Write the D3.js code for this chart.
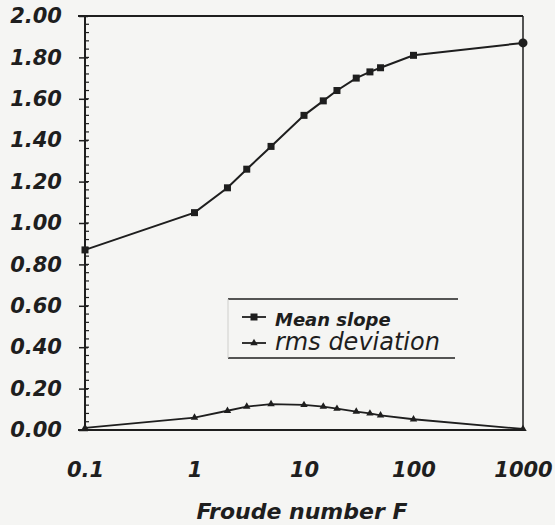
<!DOCTYPE html>
<html>
<head>
<meta charset="utf-8"/>
<title>Mean slope vs Froude number</title>
<script src="https://d3js.org/d3.v7.min.js"></script>
<style>
  html, body { margin: 0; padding: 0; background: #f5f5f3; }
  svg { display: block; }
  text { fill: #1e1e1e; font-family: "DejaVu Sans", sans-serif; font-style: italic; }
</style>
</head>
<body>
<div id="chart"></div>
<script>
// data
const froude = [0.1, 1, 2, 3, 5, 10, 15, 20, 30, 40, 50, 100, 1000];
const meanSlope = [0.87, 1.05, 1.17, 1.26, 1.37, 1.52, 1.59, 1.64, 1.70, 1.73, 1.75, 1.81, 1.87];
const rmsDev = [0.01, 0.06, 0.093, 0.113, 0.125, 0.121, 0.113, 0.103, 0.089, 0.08, 0.071, 0.052, 0.005];
const xTicks = [0.1, 1, 10, 100, 1000];
const yTicks = [0, 0.2, 0.4, 0.6, 0.8, 1.0, 1.2, 1.4, 1.6, 1.8, 2.0];
const seriesNames = ["Mean slope", "rms deviation"];

const width = 555, height = 525;
const margin = {top: 16, right: 32, bottom: 95, left: 85};
const innerW = width - margin.left - margin.right;
const innerH = height - margin.top - margin.bottom;

const svg = d3.select('#chart').append('svg')
    .attr('width', width)
    .attr('height', height);

const g = svg.append('g')
    .attr('transform', `translate(${margin.left},${margin.top})`);

const x = d3.scaleLog().domain([0.1, 1000]).range([0, innerW]);
const y = d3.scaleLinear().domain([0, 2]).range([innerH, 0]);

const ink = '#1e1e1e';

// frame: top and right lines
g.append('line').attr('x1', -7).attr('x2', innerW).attr('y1', 0).attr('y2', 0)
    .attr('stroke', ink).attr('stroke-width', 2);
g.append('line').attr('x1', innerW).attr('x2', innerW).attr('y1', 0).attr('y2', innerH)
    .attr('stroke', ink).attr('stroke-width', 1.5);

// bottom axis (no tick marks)
const xAxis = g.append('g')
    .attr('transform', `translate(0,${innerH})`)
    .call(d3.axisBottom(x).tickValues(xTicks).tickSize(0).tickPadding(32)
        .tickFormat(d => String(d)));
xAxis.select('.domain').attr('stroke', ink).attr('stroke-width', 2)
    .attr('d', `M-7,0H${innerW}`);
xAxis.selectAll('text')
    .style('font-size', '21px').style('font-weight', 'bold')
    .attr('fill', ink).attr('dy', '0.71em');

// left axis: minor ticks inside
const minor = d3.range(0, 2.0001, 0.04);
g.append('g')
    .selectAll('line').data(minor).enter().append('line')
    .attr('x1', 0).attr('x2', 4)
    .attr('y1', d => y(d)).attr('y2', d => y(d))
    .attr('stroke', ink).attr('stroke-width', 1.2);

const yAxis = g.append('g')
    .call(d3.axisLeft(y).tickValues(yTicks).tickSize(6).tickPadding(17)
        .tickFormat(d3.format('.2f')));
yAxis.select('.domain').attr('stroke', ink).attr('stroke-width', 2)
    .attr('d', `M0,0V${innerH}`);
yAxis.selectAll('.tick line').attr('stroke', ink).attr('stroke-width', 1.5)
    .attr('x1', 3);
yAxis.selectAll('text')
    .style('font-size', '21px').style('font-weight', 'bold')
    .attr('fill', ink);

// series
const meanData = froude.map((f, i) => ({f, v: meanSlope[i]}));
const rmsData = froude.map((f, i) => ({f, v: rmsDev[i]}));
const line = d3.line().x(d => x(d.f)).y(d => y(d.v));

g.append('path').datum(meanData).attr('d', line)
    .attr('fill', 'none').attr('stroke', ink).attr('stroke-width', 2);
g.append('path').datum(rmsData).attr('d', line)
    .attr('fill', 'none').attr('stroke', ink).attr('stroke-width', 1.8);

g.selectAll('.msq').data(meanData.slice(0, -1)).enter().append('rect')
    .attr('x', d => x(d.f) - 3.5).attr('y', d => y(d.v) - 3.5)
    .attr('width', 7).attr('height', 7).attr('fill', ink);
g.append('circle').datum(meanData[meanData.length - 1])
    .attr('cx', d => x(d.f)).attr('cy', d => y(d.v)).attr('r', 4.5).attr('fill', ink);

const tri = d3.symbol().type(d3.symbolTriangle).size(24);
g.selectAll('.rtri').data(rmsData).enter().append('path')
    .attr('d', tri)
    .attr('transform', d => `translate(${x(d.f)},${y(d.v)})`)
    .attr('fill', ink);

// x axis title
svg.append('text')
    .attr('x', 302).attr('y', 519)
    .attr('text-anchor', 'middle')
    .style('font-size', '22px').style('font-weight', 'bold')
    .text('Froude number F');

// legend
const leg = svg.append('g');
leg.append('line').attr('x1', 228).attr('x2', 458).attr('y1', 299).attr('y2', 299)
    .attr('stroke', ink).attr('stroke-width', 1.5);
leg.append('line').attr('x1', 228).attr('x2', 455).attr('y1', 358).attr('y2', 358)
    .attr('stroke', ink).attr('stroke-width', 1.5);
leg.append('line').attr('x1', 228).attr('x2', 228).attr('y1', 299).attr('y2', 358)
    .attr('stroke', '#cfcfcc').attr('stroke-width', 1);

const legY = [317, 343];
leg.selectAll('.lline').data(legY).enter().append('line')
    .attr('x1', 242).attr('x2', 266).attr('y1', d => d).attr('y2', d => d)
    .attr('stroke', ink).attr('stroke-width', 1.8);
leg.append('rect').attr('x', 250.5).attr('y', legY[0] - 3.5).attr('width', 7).attr('height', 7)
    .attr('fill', ink);
leg.append('path').attr('d', tri).attr('transform', `translate(254,${legY[1]})`).attr('fill', ink);

leg.append('text').attr('x', 275).attr('y', 326)
    .style('font-size', '18px').style('font-weight', 'bold')
    .text(seriesNames[0]);
leg.append('text').attr('x', 275).attr('y', 350)
    .style('font-size', '24px')
    .text(seriesNames[1]);
</script>
</body>
</html>
